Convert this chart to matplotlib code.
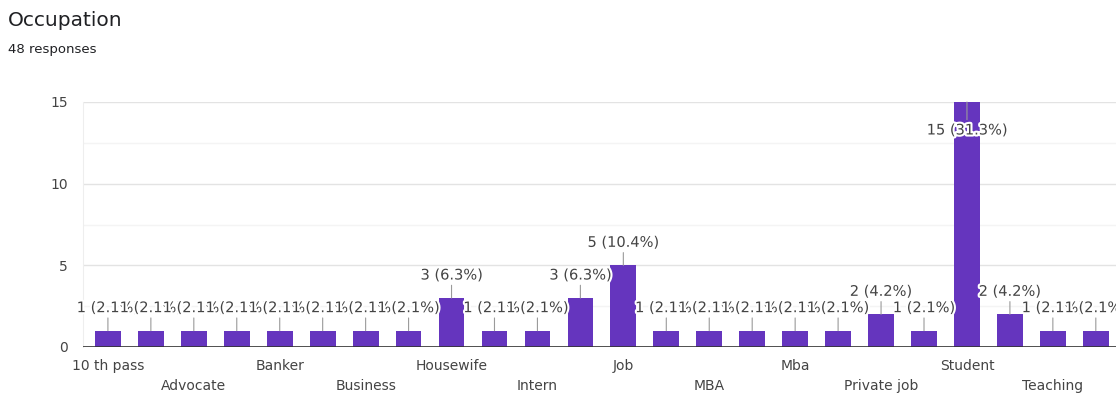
import matplotlib
matplotlib.use("Agg")
import matplotlib.pyplot as plt
import matplotlib.patheffects as pe
import numpy as np
from decimal import Decimal, ROUND_HALF_UP

# Google Forms summary: "Occupation", 48 responses
occupations = [
    "10 th pass", "Accountant", "Advocate", "Architect", "Banker", "Banking",
    "Business", "Engineer", "Housewife", "IT", "Intern", "JOB", "Job",
    "Lecturer", "MBA", "MBA student", "Mba", "Nurse", "Private job",
    "Self employed", "Student", "Teacher", "Teaching", "Working",
]
counts = [1, 1, 1, 1, 1, 1, 1, 1, 3, 1, 1, 3, 5, 1, 1, 1, 1, 1, 2, 1, 15, 2, 1, 1]
total = 48
y_ticks = [0, 5, 10, 15]

bar_color = "#6535be"
text_color = "#444444"
halo = [pe.withStroke(linewidth=3, foreground="white")]


def pct(v):
    # forms rounds half up (3/48 -> 6.3%)
    p = Decimal(v * 100) / Decimal(total)
    return p.quantize(Decimal("0.1"), rounding=ROUND_HALF_UP)


plt.rcParams["font.family"] = ["DejaVu Sans"]

fig = plt.figure(figsize=(11.16, 4.01), dpi=100)
ax = fig.add_axes([83 / 1116, 1 - 347 / 401, 1 - 83 / 1116, 245 / 401])

x = np.arange(len(occupations))
ax.bar(x, counts, width=0.6, color=bar_color, zorder=3)

ax.set_xlim(-0.58, len(occupations) - 0.53)
ax.set_ylim(0, 15)

# grid
ax.set_yticks(y_ticks)
ax.set_yticks([2.5, 7.5, 12.5], minor=True)
ax.grid(axis="y", which="major", color="#e3e3e3", lw=1, zorder=0)
ax.grid(axis="y", which="minor", color="#f4f4f4", lw=1, zorder=0)
ax.axhline(0, color="#333333", lw=1.2, zorder=4)
for side in ["top", "right", "bottom"]:
    ax.spines[side].set_visible(False)
ax.spines["left"].set_color("#eeeeee")
ax.tick_params(axis="y", which="both", length=0, pad=11, labelsize=10,
               labelcolor=text_color)
ax.tick_params(axis="x", length=0)
ax.set_xticks([])

# category labels: every other bar, staggered in two rows
for i in range(0, len(occupations), 2):
    row = (i // 2) % 2
    ax.annotate(occupations[i], xy=(i, 0), xycoords=("data", "axes fraction"),
                xytext=(0, -19 - 20 * row), textcoords="offset pixels",
                ha="center", va="center", fontsize=10, color=text_color,
                annotation_clip=False)

# value labels with leader lines
ymax = ax.get_ylim()[1]
for i, v in enumerate(counts):
    label = f"{v} ({pct(v)}%)"
    off = 23
    if v >= ymax - 1:
        off = -28
    t = ax.annotate(label, xy=(i, min(v, ymax)), xytext=(0, off),
                    textcoords="offset pixels", ha="center", va="center",
                    fontsize=10.5, color=text_color, zorder=5,
                    arrowprops=dict(arrowstyle="-", color="#9a9a9a", lw=0.8,
                                    shrinkA=0, shrinkB=0))
    t.set_path_effects(halo)

fig.text(8 / 1116, 1 - 20 / 401, "Occupation", fontsize=14.5, color="#202124",
         ha="left", va="center")
fig.text(8 / 1116, 1 - 50 / 401, "48 responses", fontsize=9.5, color="#202124",
         ha="left", va="center")

plt.savefig("out.png", dpi=100)
